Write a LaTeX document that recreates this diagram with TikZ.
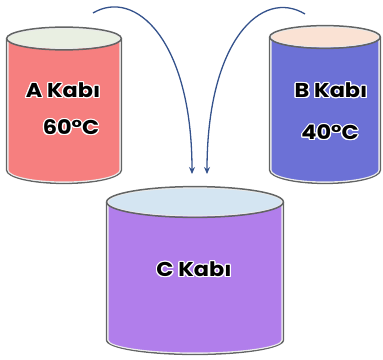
\documentclass[tikz,border=0pt]{standalone}
\usepackage{fontspec}
\setmainfont{Poppins}
\usepackage{contour}
\contourlength{1.1pt}
\contournumber{16}
\usetikzlibrary{arrows.meta}

\definecolor{rimgray}{RGB}{98,100,100}
\definecolor{afill}{RGB}{246,127,127}
\definecolor{atop}{RGB}{233,239,226}
\definecolor{bfill}{RGB}{108,113,214}
\definecolor{btop}{RGB}{250,226,212}
\definecolor{cfill}{RGB}{177,126,235}
\definecolor{ctop}{RGB}{212,229,242}
\definecolor{flow}{RGB}{52,82,140}

% \vessel{cx}{rx}{top y}{top ry}{bottom y}{bottom ry}{body colour}{top colour}
\newcommand{\vessel}[8]{%
  \pgfmathsetmacro{\vxl}{#1-#2}%
  \pgfmathsetmacro{\vxr}{#1+#2}%
  \pgfmathsetmacro{\vxlo}{#1-#2-1.4}%
  \pgfmathsetmacro{\vrxo}{#2+1.4}%
  \pgfmathsetmacro{\vryo}{#6+1.4}%
  % body
  \fill[#7] (\vxl,#3) -- (\vxl,#5) arc[start angle=180,end angle=360,x radius=#2pt,y radius=#6pt] -- (\vxr,#3) -- cycle;
  % outer grey rim and inner light rim
  \draw[rimgray,line width=1.5pt,line join=round] (\vxlo,#3) -- (\vxlo,#5) arc[start angle=180,end angle=360,x radius=\vrxo pt,y radius=\vryo pt] -- ++(0,-#5+#3);
  \draw[white!92!black,line width=1.1pt,line join=round] (\vxl,#3) -- (\vxl,#5) arc[start angle=180,end angle=360,x radius=#2pt,y radius=#6pt] -- (\vxr,#3);
  % top
  \fill[#8] (#1,#3) ellipse[x radius=#2pt,y radius=#4pt];
  \draw[white!92!black,line width=1.1pt] (#1,#3) ellipse[x radius=#2pt,y radius=#4pt];
  \draw[rimgray,line width=1.5pt] (#1,#3) ellipse[x radius=\vrxo pt,y radius=#4pt+1.4pt];
}

\tikzset{
  label/.style={font=\fontsize{20}{24}\selectfont\bfseries,text=black,inner sep=0pt,xscale=1.12,transform shape},
  pour/.style={flow,line width=1.3pt,-{Stealth[length=7pt,width=6pt]}}
}

\begin{document}
\begin{tikzpicture}[x=1pt,y=-1pt]
\useasboundingbox (0,0) rectangle (383,359);

% containers
\vessel{64}{56}{38.5}{10}{170}{12}{afill}{atop}
\vessel{325}{54}{37}{10}{170}{12}{bfill}{btop}
\vessel{195}{87}{202}{14}{340}{13}{cfill}{ctop}

% labels with a white halo
\node[label] (ka) at (63,91) {\contour{white}{A Kabı}};
\node[label] (ta) at (71,128) {\contour{white}{60°C}};
\node[label] (kb) at (331,91) {\contour{white}{B Kabı}};
\node[label] (tb) at (330,133) {\contour{white}{40°C}};
\node[label] (kc) at (194,270) {\contour{white}{C Kabı}};

% pouring paths
\coordinate (sa) at (93,13);
\coordinate (ea) at (192,174);
\coordinate (sb) at (305,14);
\coordinate (eb) at (207,174);
\draw[pour] (sa) .. controls (135,-12) and (192,40) .. (ea);
\draw[pour] (sb) .. controls (262,-12) and (207,40) .. (eb);
\end{tikzpicture}
\end{document}
